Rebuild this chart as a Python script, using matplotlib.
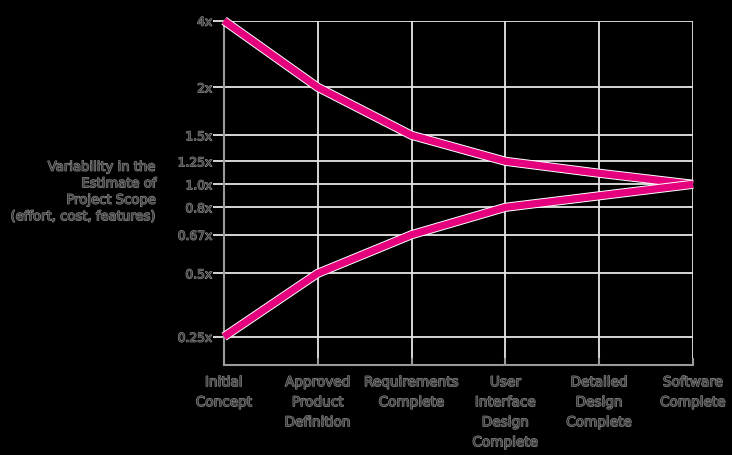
import numpy as np
import matplotlib
matplotlib.use("Agg")
import matplotlib.pyplot as plt
import matplotlib.patheffects as pe
from matplotlib.ticker import FixedLocator, NullLocator

# ---- data ---------------------------------------------------------------
phases = ["Initial\nConcept", "Approved\nProduct\nDefinition",
          "Requirements\nComplete", "User\nInterface\nDesign\nComplete",
          "Detailed\nDesign\nComplete", "Software\nComplete"]
upper = [4.0, 2.0, 1.5, 1.25, 1.12, 1.0]
lower = [0.25, 0.5, 0.67, 0.8, 0.9, 1.0]

tick_vals = [0.25, 0.5, 0.67, 0.8, 1.0, 1.25, 1.5, 2.0, 4.0]
tick_labels = ["0.25x", "0.5x", "0.67x", "0.8x", "1.0x",
               "1.25x", "1.5x", "2x", "4x"]

# ---- style --------------------------------------------------------------
BG = "#000000"
TXT = "#3a3a3a"
GRID = "#e6e6e6"
AXIS = "#9a9a9a"
PINK = "#e5007d"

# faint light rim round the dark text, as in the source image
txt_fx = [pe.withStroke(linewidth=0.9, foreground="#8c8c8c")]

# the original chart spaces its multipliers by hand, not on a true log scale
SCALE_V = [0.0, 0.25, 0.5, 0.67, 0.8, 1.0, 1.25, 1.5, 2.0, 4.0]
SCALE_P = [60.0, 118.3, 181.7, 220.3, 247.7, 270.7, 293.7, 319.7, 367.7, 434.3]

def fwd(v):
    return np.interp(v, SCALE_V, SCALE_P)

def inv(p):
    return np.interp(p, SCALE_P, SCALE_V)

fig = plt.figure(figsize=(7.32, 4.55), dpi=100)
fig.patch.set_facecolor(BG)
ax = fig.add_axes([224 / 732, 90.3 / 455, 469 / 732, 344 / 455])
ax.set_facecolor(BG)

ax.set_yscale("function", functions=(fwd, inv))
x = np.arange(len(phases))
ax.set_xlim(x[0], x[-1])
ax.set_ylim(0.13, 4.0)

ax.yaxis.set_major_locator(FixedLocator(tick_vals))
ax.yaxis.set_minor_locator(NullLocator())
ax.set_yticklabels(tick_labels)
ax.set_xticks(x)
ax.set_xticklabels(phases, linespacing=1.55)

ax.grid(True, color=GRID, linewidth=1.3)
ax.set_axisbelow(True)

for s in ["top", "right"]:
    ax.spines[s].set_visible(False)
for s in ["left", "bottom"]:
    ax.spines[s].set_color(AXIS)
    ax.spines[s].set_linewidth(1.5)

ax.tick_params(axis="y", length=8, width=1.3, color=GRID, pad=0.5,
               labelsize=8.8, labelcolor=TXT)
ax.tick_params(axis="x", direction="in", length=5, width=1.5, color=AXIS,
               pad=7.5, labelsize=9.8, labelcolor=TXT)
for lab in ax.get_xticklabels() + ax.get_yticklabels():
    lab.set_path_effects(txt_fx)

halo = [pe.Stroke(linewidth=6.6, foreground="white"), pe.Normal()]
ax.plot(x, upper, color=PINK, linewidth=5.2, solid_joinstyle="round",
        solid_capstyle="butt", path_effects=halo, clip_on=False, zorder=5)
ax.plot(x, lower, color=PINK, linewidth=5.2, solid_joinstyle="round",
        solid_capstyle="butt", path_effects=halo, clip_on=False, zorder=5)

fig.text(157 / 732, 1 - 192 / 455,
         "Variability in the\nEstimate of\nProject Scope\n(effort, cost, features)",
         ha="right", va="center", multialignment="right", fontsize=9.5,
         color=TXT, linespacing=1.35, path_effects=txt_fx)

fig.savefig("out.png", dpi=100, facecolor=BG)
